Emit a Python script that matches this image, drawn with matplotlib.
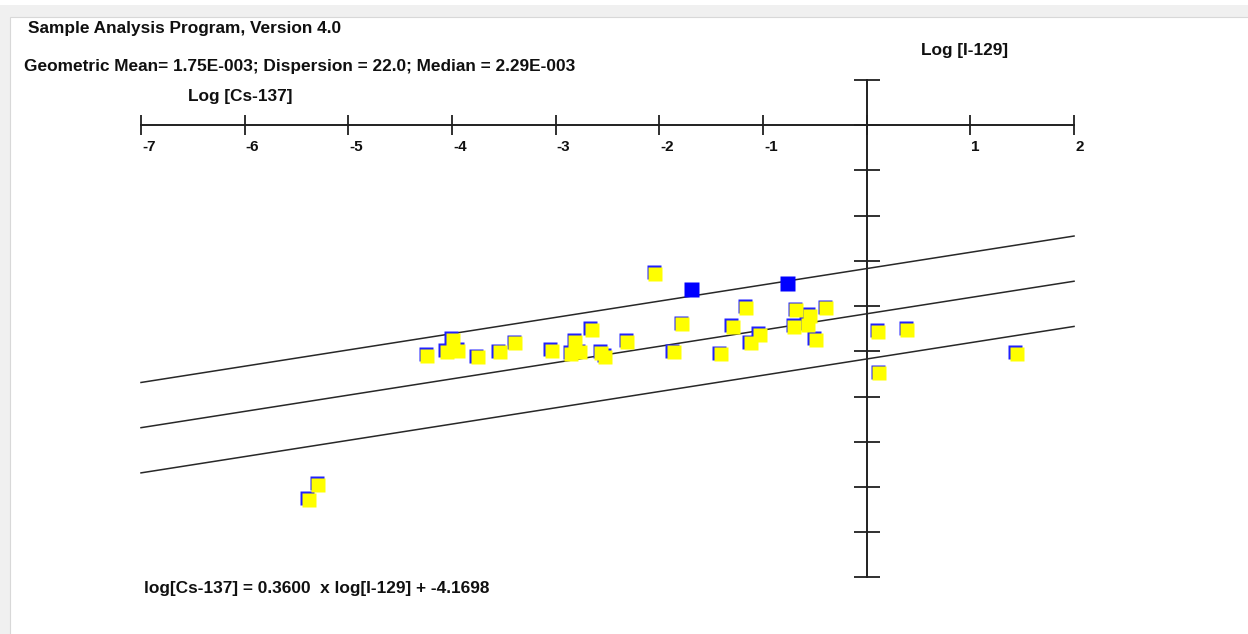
import numpy as np
import matplotlib.pyplot as plt
from matplotlib.patches import Rectangle
from matplotlib.transforms import ScaledTranslation

plt.rcParams['font.family'] = ['Liberation Sans', 'DejaVu Sans']

# log[I-129] (horizontal) and log[Cs-137] (vertical) for the samples
log_i = [-2.04, -1.16, -0.68, -0.55, -0.39, -1.78, -1.29, -0.70, -0.57, -1.03,
         -1.12, -0.49, -2.65, -2.81, -2.85, -2.77, -2.56, -2.52, -2.31, -1.86,
         -1.41, -4.24, -4.05, -3.99, -3.94, -3.75, -3.54, -3.39, -3.04, 0.11,
         0.39, 0.12, 1.45, -5.29, -5.38]
log_cs = [-3.29, -4.04, -4.09, -4.22, -4.05, -4.40, -4.46, -4.46, -4.42, -4.64,
          -4.82, -4.74, -4.53, -4.79, -5.06, -5.02, -5.03, -5.12, -4.79, -5.02,
          -5.07, -5.10, -5.01, -4.75, -4.99, -5.13, -5.02, -4.82, -4.99, -4.57,
          -4.53, -5.49, -5.06, -7.96, -8.29]
# highlighted samples
sel_i = [-1.69, -0.77]
sel_cs = [-3.63, -3.48]

slope = 0.3600
intercept = -4.1698
band = 1.0

x_ticks = [-7, -6, -5, -4, -3, -2, -1, 0, 1, 2]
y_ticks = list(range(1, -11, -1))

W, H = 1248, 634
fig = plt.figure(figsize=(W / 100, H / 100), dpi=100)
fig.patch.set_facecolor('white')

# window frame
fig.patches.append(Rectangle((0, 1 - 17 / H), 1, 12 / H, transform=fig.transFigure,
                             facecolor='#f0f0f0', edgecolor='none', zorder=0))
fig.patches.append(Rectangle((0, 0), 10 / W, 1 - 5 / H, transform=fig.transFigure,
                             facecolor='#f0f0f0', edgecolor='none', zorder=0))
fig.patches.append(Rectangle((10 / W, -0.01), 1, 1 - 17 / H + 0.01, transform=fig.transFigure,
                             facecolor='white', edgecolor='#d8d8d8', lw=0.8, zorder=0))

ax = fig.add_axes([0, 0, 1, 1])
ax.set_zorder(2)
ax.patch.set_visible(False)
ax.set_axis_off()
# pixel mapping: x0 at 866.7 px, 103.67 px/unit ; y0 at 125.3 px, 45.2 px/unit
ax.set_xlim(-866.7 / 103.67, (W - 866.7) / 103.67)
ax.set_ylim((125.3 - H) / 45.2, 125.3 / 45.2)

# axes
ax.plot([x_ticks[0], x_ticks[-1]], [0, 0], color='#202020', lw=1.4)
ax.plot(x_ticks, [0] * len(x_ticks), ls='none', marker='|', ms=15, mew=1.3, color='#202020')
ax.plot([0, 0], [y_ticks[0], y_ticks[-1]], color='#202020', lw=1.4)
ax.plot([0] * len(y_ticks), y_ticks, ls='none', marker='_', ms=19, mew=1.3, color='#202020')
for t in x_ticks:
    if t == 0:
        continue
    ax.annotate(str(t), (t, 0), xytext=(1, -22), textcoords='offset pixels',
                ha='left', va='center', fontsize=11, fontweight='bold', color='#101010')

# regression line and band
xl = np.array([x_ticks[0], x_ticks[-1]])
for d in (band, 0, -band):
    ax.plot(xl, slope * xl + intercept + d, color='#282828', lw=1.1)

# samples
shift = ax.transData + ScaledTranslation(-1.6 / 100, 1.6 / 100, fig.dpi_scale_trans)
ax.plot(log_i, log_cs, ls='none', marker='s', ms=10.3, mfc='#2020ff', mec='none', transform=shift)
ax.plot(log_i, log_cs, ls='none', marker='s', ms=10.3, mfc='#ffff00', mec='none')
ax.plot(sel_i, sel_cs, ls='none', marker='s', ms=10.8, mfc='#0000ff', mec='none')

def put(x, y, s):
    fig.text(x / W, 1 - y / H, s, ha='left', va='center', fontsize=12.4,
             fontweight='bold', color='#101010')

put(28, 28, 'Sample Analysis Program, Version 4.0')
put(24, 66, 'Geometric Mean= 1.75E-003; Dispersion = 22.0; Median = 2.29E-003')
put(188, 96, 'Log [Cs-137]')
put(921, 51, 'Log [I-129]')
put(144, 589, 'log[Cs-137] = 0.3600  x log[I-129] + -4.1698')

fig.savefig('out.png', dpi=100)
